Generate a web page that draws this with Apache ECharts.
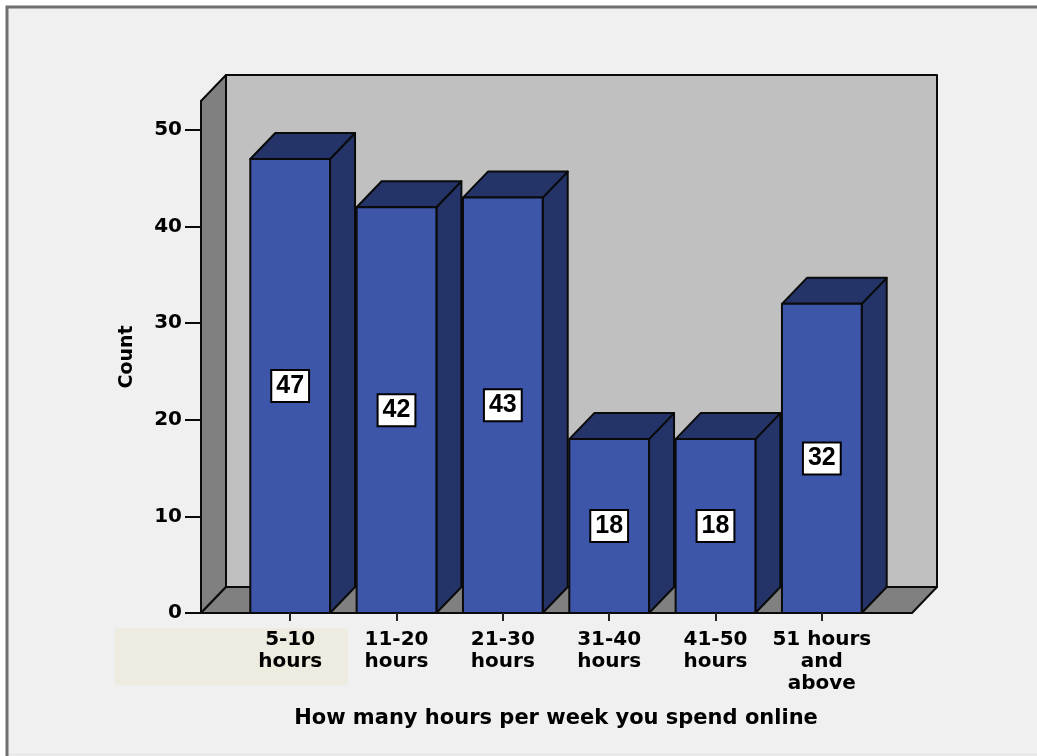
<!DOCTYPE html>
<html>
<head>
<meta charset="utf-8">
<title>Hours per week spent online</title>
<script src="https://cdn.jsdelivr.net/npm/echarts@6/dist/echarts.min.js"></script>
<style>
  html, body { margin: 0; padding: 0; background: #ffffff; }
  #chart { width: 1037px; height: 756px; }
</style>
</head>
<body>
<div id="chart"></div>
<script>
// Survey answers: hours per week spent online
const categories = ['5-10\nhours', '11-20\nhours', '21-30\nhours', '31-40\nhours', '41-50\nhours', '51 hours\nand\nabove'];
const counts = [47, 42, 43, 18, 18, 32];
const yTicks = [0, 10, 20, 30, 40, 50];

const FONT = '"DejaVu Sans", Verdana, sans-serif';
const DEPTH_X = 25;   // 3D depth offset to the right
const DEPTH_Y = 26;   // 3D depth offset upwards
const WALL_PAD_L = 36;
const WALL_PAD_R = 37;

const BAR_FRONT = '#3d56aa';
const BAR_DARK = '#243368';
const EDGE = '#0a0a0a';

const chart = echarts.init(document.getElementById('chart'), null, { renderer: 'canvas' });

// Back wall, left wall and floor of the 3D box, built from the grid rectangle
function renderWalls(params, api) {
  const cs = params.coordSys;
  const y0 = api.coord([0, 0])[1];
  const yTop = cs.y;
  const fl = cs.x - WALL_PAD_L;
  const fr = cs.x + cs.width + WALL_PAD_R;
  const bl = fl + DEPTH_X, br = fr + DEPTH_X;
  const by0 = y0 - DEPTH_Y, byTop = yTop - DEPTH_Y;
  const line = { stroke: EDGE, lineWidth: 2, lineJoin: 'round' };
  return {
    type: 'group',
    children: [
      { type: 'rect', shape: { x: bl, y: byTop, width: br - bl, height: by0 - byTop },
        style: Object.assign({ fill: '#c0c0c0' }, line) },
      { type: 'polygon', shape: { points: [[fl, y0], [fl, yTop], [bl, byTop], [bl, by0]] },
        style: Object.assign({ fill: '#808080' }, line) },
      { type: 'polygon', shape: { points: [[fl, y0], [fr, y0], [br, by0], [bl, by0]] },
        style: Object.assign({ fill: '#808080' }, line) }
    ]
  };
}

// One 3D bar: front face, right side face, top face and a boxed value label
function renderBar(params, api) {
  const idx = api.value(0);
  const val = api.value(1);
  const base = api.coord([idx, 0]);
  const top = api.coord([idx, val]);
  const w = api.size([1, 0])[0] * 0.75;
  const cx = base[0];
  const l = cx - w / 2, r = cx + w / 2;
  const y0 = base[1], y1 = top[1];
  const line = { stroke: EDGE, lineWidth: 2, lineJoin: 'round' };
  return {
    type: 'group',
    children: [
      { type: 'polygon', shape: { points: [[r, y0], [r + DEPTH_X, y0 - DEPTH_Y], [r + DEPTH_X, y1 - DEPTH_Y], [r, y1]] },
        style: Object.assign({ fill: BAR_DARK }, line) },
      { type: 'polygon', shape: { points: [[l, y1], [l + DEPTH_X, y1 - DEPTH_Y], [r + DEPTH_X, y1 - DEPTH_Y], [r, y1]] },
        style: Object.assign({ fill: BAR_DARK }, line) },
      { type: 'rect', shape: { x: l, y: y1, width: w, height: y0 - y1 },
        style: Object.assign({ fill: BAR_FRONT }, line) },
      { type: 'text', x: cx, y: (y0 + y1) / 2,
        style: {
          text: String(val),
          align: 'center', verticalAlign: 'middle',
          font: 'bold 25px "Liberation Sans", Arial, sans-serif',
          fill: '#000000',
          backgroundColor: '#ffffff',
          borderColor: '#000000', borderWidth: 2,
          padding: [3, 4, 2, 4]
        } }
    ]
  };
}

chart.setOption({
  backgroundColor: '#ffffff',
  animation: false,
  graphic: [
    { type: 'rect', z: -10, shape: { x: 7, y: 7, width: 1040, height: 748 },
      style: { fill: '#f0f0f0', stroke: '#d8d8d8', lineWidth: 1 } },
    { type: 'polyline', z: -9, shape: { points: [[7, 756], [7, 7], [1037, 7]] },
      style: { fill: null, stroke: '#6f6f6f', lineWidth: 3 } },
    { type: 'rect', z: -8, shape: { x: 115, y: 628, width: 233, height: 57 },
      style: { fill: '#eeebe0' } }
  ],
  grid: { left: 237, right: 162, top: 101, bottom: 143, containLabel: false },
  xAxis: {
    type: 'category',
    data: categories,
    boundaryGap: true,
    name: 'How many hours per week you spend online',
    nameLocation: 'middle',
    nameGap: 95,
    nameTextStyle: { fontFamily: FONT, fontWeight: 'bold', fontSize: 21, color: '#000000', verticalAlign: 'top' },
    axisLine: { show: true, lineStyle: { color: '#0a0a0a', width: 2 } },
    axisTick: { show: true, alignWithLabel: true, length: 8, lineStyle: { color: '#222222', width: 2 } },
    axisLabel: {
      interval: 0, margin: 16,
      fontFamily: FONT, fontWeight: 'bold', fontSize: 20, lineHeight: 22, color: '#000000'
    },
    splitLine: { show: false },
    z: 5
  },
  yAxis: {
    type: 'value',
    min: 0, max: 53, interval: 10,
    offset: WALL_PAD_L,
    name: 'Count',
    nameLocation: 'middle',
    nameRotate: 90,
    nameGap: 64,
    nameTextStyle: { fontFamily: FONT, fontWeight: 'bold', fontSize: 19, color: '#000000' },
    axisLine: { show: true, lineStyle: { color: '#0a0a0a', width: 2 } },
    axisTick: { show: true, length: 16, lineStyle: { color: '#0a0a0a', width: 2 } },
    axisLabel: {
      showMaxLabel: false, margin: 19,
      fontFamily: FONT, fontWeight: 'bold', fontSize: 20, color: '#000000',
      formatter: function (v) { return yTicks.indexOf(v) >= 0 ? String(v) : ''; }
    },
    splitLine: { show: false }
  },
  series: [
    {
      type: 'custom',
      name: 'walls',
      z: 1,
      silent: true,
      renderItem: renderWalls,
      data: [[0, 0]]
    },
    {
      type: 'custom',
      name: 'Count',
      z: 3,
      renderItem: renderBar,
      encode: { x: 0, y: 1 },
      data: counts.map(function (v, i) { return [i, v]; })
    }
  ]
});
</script>
</body>
</html>
